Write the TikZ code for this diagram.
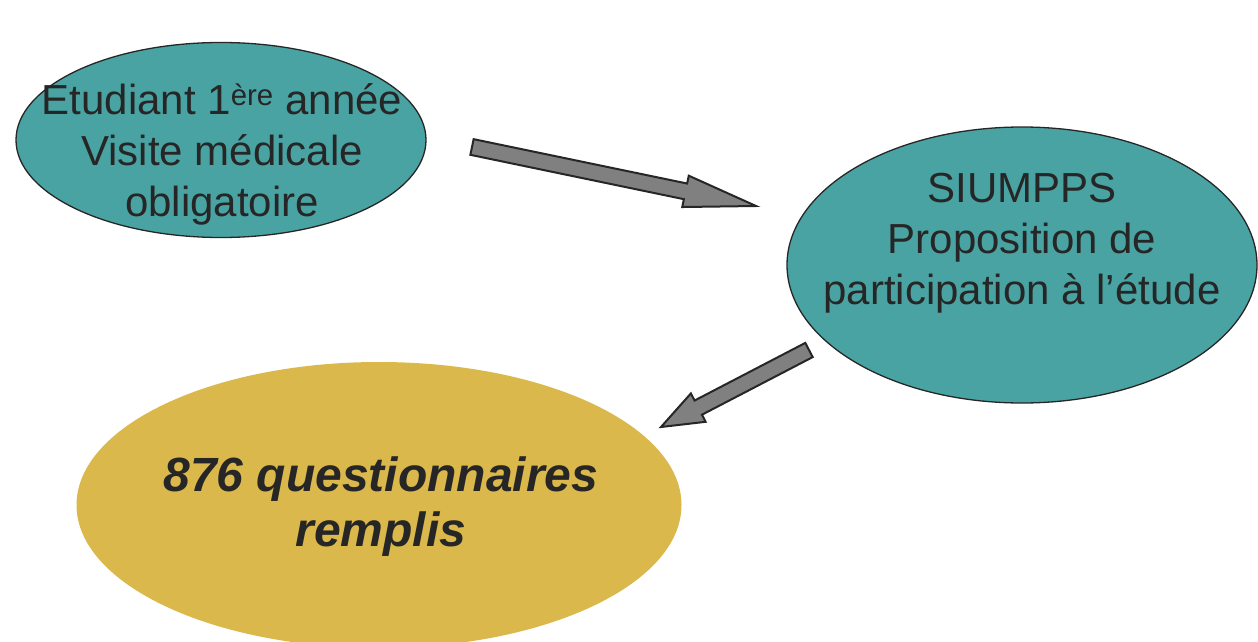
\documentclass[tikz,border=0pt]{standalone}
\usepackage{fontspec}
\setmainfont{Liberation Sans}
\usetikzlibrary{shapes.geometric,calc}
\definecolor{tealfill}{HTML}{4AA3A3}
\definecolor{goldfill}{HTML}{DBB84B}
\definecolor{inkdark}{HTML}{262626}
\definecolor{arrowgray}{HTML}{808080}
\tikzset{
  bubble/.style={ellipse, inner sep=0pt, draw=inkdark, line width=1.3pt, fill=tealfill},
  goldbubble/.style={ellipse, inner sep=0pt, draw=none, fill=goldfill},
  bubbletext/.style={align=center, text=inkdark, inner sep=0pt, font=\fontsize{42}{51}\selectfont},
  goldtext/.style={align=center, text=inkdark, inner sep=0pt, font=\fontsize{48}{55}\selectfont\bfseries\itshape},
  blockarrow/.style={fill=arrowgray, draw=inkdark, line width=2pt, line join=miter}
}
\newcommand{\blockarr}[3]{%
  \path ($(#2)!#3!(#1)$) coordinate (bah);
  \draw[blockarrow] ($(#1)!8pt!90:(#2)$) -- ($(bah)!8pt!90:(#2)$) -- ($(bah)!16pt!90:(#2)$) -- (#2)
    -- ($(bah)!16pt!-90:(#2)$) -- ($(bah)!8pt!-90:(#2)$) -- ($(#1)!8pt!-90:(#2)$) -- cycle;}
\begin{document}
\begin{tikzpicture}[x=1pt,y=-1pt]
\useasboundingbox (0,0) rectangle (1258,642);
\clip (0,0) rectangle (1258,642);
\node[bubble, minimum width=410pt, minimum height=195pt] (e1) at (221,140) {};
\node[bubbletext] (t1) at (222,154) {Etudiant 1\textsuperscript{ère} année\\Visite médicale\\obligatoire};
\node[bubble, minimum width=470pt, minimum height=276pt] (e2) at (1022,265) {};
\node[bubbletext] (t2) at (1022,243) {SIUMPPS\\Proposition de\\participation à l’étude};
\node[goldbubble, minimum width=605pt, minimum height=286pt] (e3) at (379,505) {};
\node[goldtext] (t3) at (381,507) {876 questionnaires\\remplis};
\coordinate (a1s) at (472,147);
\coordinate (a1e) at (756,206);
\coordinate (a2s) at (809,350);
\coordinate (a2e) at (661,427);
\blockarr{a1s}{a1e}{72pt}
\blockarr{a2s}{a2e}{42pt}
\end{tikzpicture}
\end{document}
